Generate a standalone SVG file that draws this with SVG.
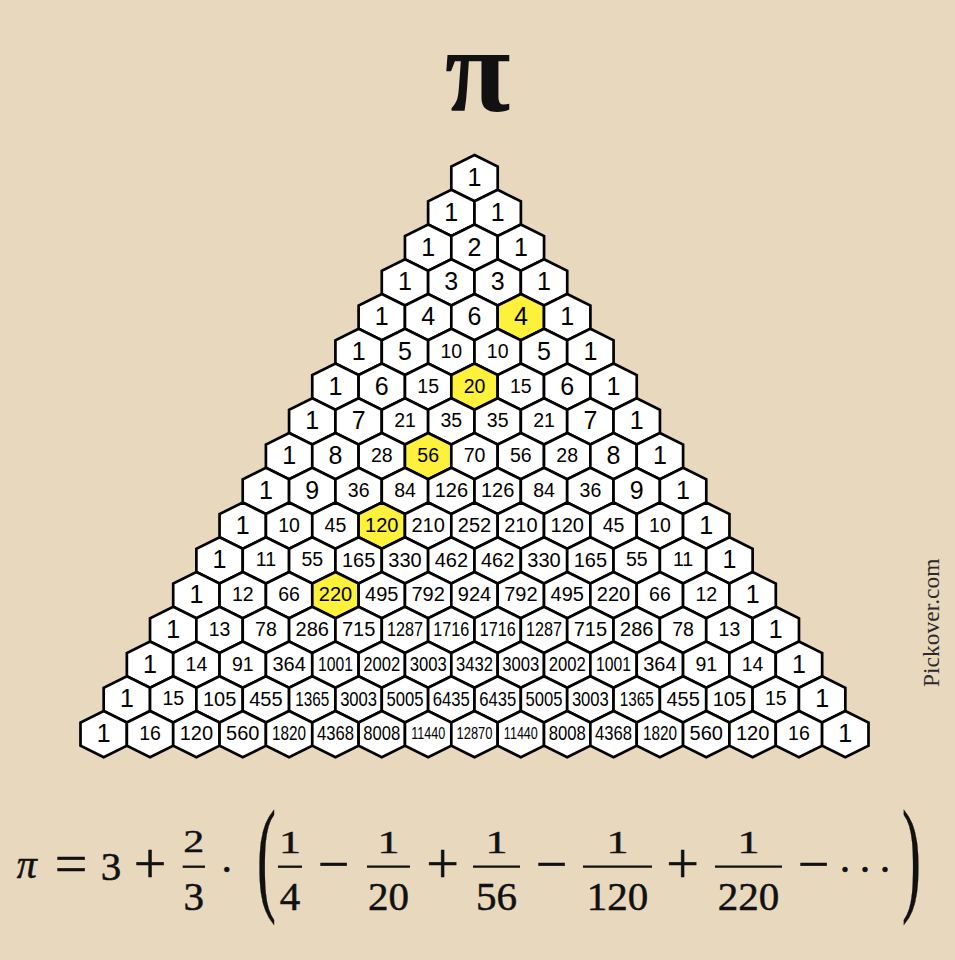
<svg xmlns="http://www.w3.org/2000/svg" xmlns:xlink="http://www.w3.org/1999/xlink" width="955" height="960" viewBox="0 0 955 960">
<style>
.h{fill:#ffffff;stroke:#000;stroke-width:2.7;stroke-linejoin:miter}
.y{fill:#fdf13c}
.n text{font-family:'Liberation Sans',Arial,sans-serif;text-anchor:middle;fill:#000}
.d1{font-size:25px}
.d2{font-size:19.5px}
.d3{font-size:20px}
.d4{font-size:20.5px}
.d5{font-size:16px}
.f text{font-family:'Liberation Serif','Times New Roman',serif;fill:#111;stroke:#111;stroke-width:0.5;text-anchor:middle}
.bar{stroke:#111;stroke-width:2.3}
</style>
<defs>
<polygon id="hx" points="0,-23.15 23.2,-11.55 23.2,11.55 0,23.15 -23.2,11.55 -23.2,-11.55"/>
</defs>
<rect width="955" height="960" fill="#e8d8be"/>
<text x="477.5" y="111" font-family="'Liberation Serif','Times New Roman',serif" font-size="120" font-weight="bold" text-anchor="middle" fill="#111">π</text>
<g class="n" id="triangle">
<g transform="translate(474.5,178.15)">
<g id="r0k0"><use href="#hx" class="h"/><text class="d1" y="8">1</text></g>
</g>
<g transform="translate(451.325,212.9)">
<g id="r1k0"><use href="#hx" class="h"/><text class="d1" y="8">1</text></g>
<g id="r1k1" transform="translate(46.35)"><use href="#hx" class="h"/><text class="d1" y="8">1</text></g>
</g>
<g transform="translate(428.15,247.65)">
<g id="r2k0"><use href="#hx" class="h"/><text class="d1" y="8">1</text></g>
<g id="r2k1" transform="translate(46.35)"><use href="#hx" class="h"/><text class="d1" y="8">2</text></g>
<g id="r2k2" transform="translate(92.7)"><use href="#hx" class="h"/><text class="d1" y="8">1</text></g>
</g>
<g transform="translate(404.975,282.4)">
<g id="r3k0"><use href="#hx" class="h"/><text class="d1" y="8">1</text></g>
<g id="r3k1" transform="translate(46.35)"><use href="#hx" class="h"/><text class="d1" y="8">3</text></g>
<g id="r3k2" transform="translate(92.7)"><use href="#hx" class="h"/><text class="d1" y="8">3</text></g>
<g id="r3k3" transform="translate(139.05)"><use href="#hx" class="h"/><text class="d1" y="8">1</text></g>
</g>
<g transform="translate(381.8,317.15)">
<g id="r4k0"><use href="#hx" class="h"/><text class="d1" y="8">1</text></g>
<g id="r4k1" transform="translate(46.35)"><use href="#hx" class="h"/><text class="d1" y="8">4</text></g>
<g id="r4k2" transform="translate(92.7)"><use href="#hx" class="h"/><text class="d1" y="8">6</text></g>
<g id="r4k3" transform="translate(139.05)"><use href="#hx" class="h y"/><text class="d1" y="8">4</text></g>
<g id="r4k4" transform="translate(185.4)"><use href="#hx" class="h"/><text class="d1" y="8">1</text></g>
</g>
<g transform="translate(358.625,351.9)">
<g id="r5k0"><use href="#hx" class="h"/><text class="d1" y="8">1</text></g>
<g id="r5k1" transform="translate(46.35)"><use href="#hx" class="h"/><text class="d1" y="8">5</text></g>
<g id="r5k2" transform="translate(92.7)"><use href="#hx" class="h"/><text class="d2" y="6">10</text></g>
<g id="r5k3" transform="translate(139.05)"><use href="#hx" class="h"/><text class="d2" y="6">10</text></g>
<g id="r5k4" transform="translate(185.4)"><use href="#hx" class="h"/><text class="d1" y="8">5</text></g>
<g id="r5k5" transform="translate(231.75)"><use href="#hx" class="h"/><text class="d1" y="8">1</text></g>
</g>
<g transform="translate(335.45,386.65)">
<g id="r6k0"><use href="#hx" class="h"/><text class="d1" y="8">1</text></g>
<g id="r6k1" transform="translate(46.35)"><use href="#hx" class="h"/><text class="d1" y="8">6</text></g>
<g id="r6k2" transform="translate(92.7)"><use href="#hx" class="h"/><text class="d2" y="6">15</text></g>
<g id="r6k3" transform="translate(139.05)"><use href="#hx" class="h y"/><text class="d2" y="6">20</text></g>
<g id="r6k4" transform="translate(185.4)"><use href="#hx" class="h"/><text class="d2" y="6">15</text></g>
<g id="r6k5" transform="translate(231.75)"><use href="#hx" class="h"/><text class="d1" y="8">6</text></g>
<g id="r6k6" transform="translate(278.1)"><use href="#hx" class="h"/><text class="d1" y="8">1</text></g>
</g>
<g transform="translate(312.275,421.4)">
<g id="r7k0"><use href="#hx" class="h"/><text class="d1" y="8">1</text></g>
<g id="r7k1" transform="translate(46.35)"><use href="#hx" class="h"/><text class="d1" y="8">7</text></g>
<g id="r7k2" transform="translate(92.7)"><use href="#hx" class="h"/><text class="d2" y="6">21</text></g>
<g id="r7k3" transform="translate(139.05)"><use href="#hx" class="h"/><text class="d2" y="6">35</text></g>
<g id="r7k4" transform="translate(185.4)"><use href="#hx" class="h"/><text class="d2" y="6">35</text></g>
<g id="r7k5" transform="translate(231.75)"><use href="#hx" class="h"/><text class="d2" y="6">21</text></g>
<g id="r7k6" transform="translate(278.1)"><use href="#hx" class="h"/><text class="d1" y="8">7</text></g>
<g id="r7k7" transform="translate(324.45)"><use href="#hx" class="h"/><text class="d1" y="8">1</text></g>
</g>
<g transform="translate(289.1,456.15)">
<g id="r8k0"><use href="#hx" class="h"/><text class="d1" y="8">1</text></g>
<g id="r8k1" transform="translate(46.35)"><use href="#hx" class="h"/><text class="d1" y="8">8</text></g>
<g id="r8k2" transform="translate(92.7)"><use href="#hx" class="h"/><text class="d2" y="6">28</text></g>
<g id="r8k3" transform="translate(139.05)"><use href="#hx" class="h y"/><text class="d2" y="6">56</text></g>
<g id="r8k4" transform="translate(185.4)"><use href="#hx" class="h"/><text class="d2" y="6">70</text></g>
<g id="r8k5" transform="translate(231.75)"><use href="#hx" class="h"/><text class="d2" y="6">56</text></g>
<g id="r8k6" transform="translate(278.1)"><use href="#hx" class="h"/><text class="d2" y="6">28</text></g>
<g id="r8k7" transform="translate(324.45)"><use href="#hx" class="h"/><text class="d1" y="8">8</text></g>
<g id="r8k8" transform="translate(370.8)"><use href="#hx" class="h"/><text class="d1" y="8">1</text></g>
</g>
<g transform="translate(265.925,490.9)">
<g id="r9k0"><use href="#hx" class="h"/><text class="d1" y="8">1</text></g>
<g id="r9k1" transform="translate(46.35)"><use href="#hx" class="h"/><text class="d1" y="8">9</text></g>
<g id="r9k2" transform="translate(92.7)"><use href="#hx" class="h"/><text class="d2" y="6">36</text></g>
<g id="r9k3" transform="translate(139.05)"><use href="#hx" class="h"/><text class="d2" y="6">84</text></g>
<g id="r9k4" transform="translate(185.4)"><use href="#hx" class="h"/><text class="d3" y="6.2">126</text></g>
<g id="r9k5" transform="translate(231.75)"><use href="#hx" class="h"/><text class="d3" y="6.2">126</text></g>
<g id="r9k6" transform="translate(278.1)"><use href="#hx" class="h"/><text class="d2" y="6">84</text></g>
<g id="r9k7" transform="translate(324.45)"><use href="#hx" class="h"/><text class="d2" y="6">36</text></g>
<g id="r9k8" transform="translate(370.8)"><use href="#hx" class="h"/><text class="d1" y="8">9</text></g>
<g id="r9k9" transform="translate(417.15)"><use href="#hx" class="h"/><text class="d1" y="8">1</text></g>
</g>
<g transform="translate(242.75,525.65)">
<g id="r10k0"><use href="#hx" class="h"/><text class="d1" y="8">1</text></g>
<g id="r10k1" transform="translate(46.35)"><use href="#hx" class="h"/><text class="d2" y="6">10</text></g>
<g id="r10k2" transform="translate(92.7)"><use href="#hx" class="h"/><text class="d2" y="6">45</text></g>
<g id="r10k3" transform="translate(139.05)"><use href="#hx" class="h y"/><text class="d3" y="6.2">120</text></g>
<g id="r10k4" transform="translate(185.4)"><use href="#hx" class="h"/><text class="d3" y="6.2">210</text></g>
<g id="r10k5" transform="translate(231.75)"><use href="#hx" class="h"/><text class="d3" y="6.2">252</text></g>
<g id="r10k6" transform="translate(278.1)"><use href="#hx" class="h"/><text class="d3" y="6.2">210</text></g>
<g id="r10k7" transform="translate(324.45)"><use href="#hx" class="h"/><text class="d3" y="6.2">120</text></g>
<g id="r10k8" transform="translate(370.8)"><use href="#hx" class="h"/><text class="d2" y="6">45</text></g>
<g id="r10k9" transform="translate(417.15)"><use href="#hx" class="h"/><text class="d2" y="6">10</text></g>
<g id="r10k10" transform="translate(463.5)"><use href="#hx" class="h"/><text class="d1" y="8">1</text></g>
</g>
<g transform="translate(219.575,560.4)">
<g id="r11k0"><use href="#hx" class="h"/><text class="d1" y="8">1</text></g>
<g id="r11k1" transform="translate(46.35)"><use href="#hx" class="h"/><text class="d2" y="6">11</text></g>
<g id="r11k2" transform="translate(92.7)"><use href="#hx" class="h"/><text class="d2" y="6">55</text></g>
<g id="r11k3" transform="translate(139.05)"><use href="#hx" class="h"/><text class="d3" y="6.2">165</text></g>
<g id="r11k4" transform="translate(185.4)"><use href="#hx" class="h"/><text class="d3" y="6.2">330</text></g>
<g id="r11k5" transform="translate(231.75)"><use href="#hx" class="h"/><text class="d3" y="6.2">462</text></g>
<g id="r11k6" transform="translate(278.1)"><use href="#hx" class="h"/><text class="d3" y="6.2">462</text></g>
<g id="r11k7" transform="translate(324.45)"><use href="#hx" class="h"/><text class="d3" y="6.2">330</text></g>
<g id="r11k8" transform="translate(370.8)"><use href="#hx" class="h"/><text class="d3" y="6.2">165</text></g>
<g id="r11k9" transform="translate(417.15)"><use href="#hx" class="h"/><text class="d2" y="6">55</text></g>
<g id="r11k10" transform="translate(463.5)"><use href="#hx" class="h"/><text class="d2" y="6">11</text></g>
<g id="r11k11" transform="translate(509.85)"><use href="#hx" class="h"/><text class="d1" y="8">1</text></g>
</g>
<g transform="translate(196.4,595.15)">
<g id="r12k0"><use href="#hx" class="h"/><text class="d1" y="8">1</text></g>
<g id="r12k1" transform="translate(46.35)"><use href="#hx" class="h"/><text class="d2" y="6">12</text></g>
<g id="r12k2" transform="translate(92.7)"><use href="#hx" class="h"/><text class="d2" y="6">66</text></g>
<g id="r12k3" transform="translate(139.05)"><use href="#hx" class="h y"/><text class="d3" y="6.2">220</text></g>
<g id="r12k4" transform="translate(185.4)"><use href="#hx" class="h"/><text class="d3" y="6.2">495</text></g>
<g id="r12k5" transform="translate(231.75)"><use href="#hx" class="h"/><text class="d3" y="6.2">792</text></g>
<g id="r12k6" transform="translate(278.1)"><use href="#hx" class="h"/><text class="d3" y="6.2">924</text></g>
<g id="r12k7" transform="translate(324.45)"><use href="#hx" class="h"/><text class="d3" y="6.2">792</text></g>
<g id="r12k8" transform="translate(370.8)"><use href="#hx" class="h"/><text class="d3" y="6.2">495</text></g>
<g id="r12k9" transform="translate(417.15)"><use href="#hx" class="h"/><text class="d3" y="6.2">220</text></g>
<g id="r12k10" transform="translate(463.5)"><use href="#hx" class="h"/><text class="d2" y="6">66</text></g>
<g id="r12k11" transform="translate(509.85)"><use href="#hx" class="h"/><text class="d2" y="6">12</text></g>
<g id="r12k12" transform="translate(556.2)"><use href="#hx" class="h"/><text class="d1" y="8">1</text></g>
</g>
<g transform="translate(173.225,629.9)">
<g id="r13k0"><use href="#hx" class="h"/><text class="d1" y="8">1</text></g>
<g id="r13k1" transform="translate(46.35)"><use href="#hx" class="h"/><text class="d2" y="6">13</text></g>
<g id="r13k2" transform="translate(92.7)"><use href="#hx" class="h"/><text class="d2" y="6">78</text></g>
<g id="r13k3" transform="translate(139.05)"><use href="#hx" class="h"/><text class="d3" y="6.2">286</text></g>
<g id="r13k4" transform="translate(185.4)"><use href="#hx" class="h"/><text class="d3" y="6.2">715</text></g>
<g id="r13k5" transform="translate(231.75)"><use href="#hx" class="h"/><text class="d4" y="6.3" textLength="36" lengthAdjust="spacingAndGlyphs">1287</text></g>
<g id="r13k6" transform="translate(278.1)"><use href="#hx" class="h"/><text class="d4" y="6.3" textLength="36" lengthAdjust="spacingAndGlyphs">1716</text></g>
<g id="r13k7" transform="translate(324.45)"><use href="#hx" class="h"/><text class="d4" y="6.3" textLength="36" lengthAdjust="spacingAndGlyphs">1716</text></g>
<g id="r13k8" transform="translate(370.8)"><use href="#hx" class="h"/><text class="d4" y="6.3" textLength="36" lengthAdjust="spacingAndGlyphs">1287</text></g>
<g id="r13k9" transform="translate(417.15)"><use href="#hx" class="h"/><text class="d3" y="6.2">715</text></g>
<g id="r13k10" transform="translate(463.5)"><use href="#hx" class="h"/><text class="d3" y="6.2">286</text></g>
<g id="r13k11" transform="translate(509.85)"><use href="#hx" class="h"/><text class="d2" y="6">78</text></g>
<g id="r13k12" transform="translate(556.2)"><use href="#hx" class="h"/><text class="d2" y="6">13</text></g>
<g id="r13k13" transform="translate(602.55)"><use href="#hx" class="h"/><text class="d1" y="8">1</text></g>
</g>
<g transform="translate(150.05,664.65)">
<g id="r14k0"><use href="#hx" class="h"/><text class="d1" y="8">1</text></g>
<g id="r14k1" transform="translate(46.35)"><use href="#hx" class="h"/><text class="d2" y="6">14</text></g>
<g id="r14k2" transform="translate(92.7)"><use href="#hx" class="h"/><text class="d2" y="6">91</text></g>
<g id="r14k3" transform="translate(139.05)"><use href="#hx" class="h"/><text class="d3" y="6.2">364</text></g>
<g id="r14k4" transform="translate(185.4)"><use href="#hx" class="h"/><text class="d4" y="6.3" textLength="35" lengthAdjust="spacingAndGlyphs">1001</text></g>
<g id="r14k5" transform="translate(231.75)"><use href="#hx" class="h"/><text class="d4" y="6.3" textLength="37" lengthAdjust="spacingAndGlyphs">2002</text></g>
<g id="r14k6" transform="translate(278.1)"><use href="#hx" class="h"/><text class="d4" y="6.3" textLength="37" lengthAdjust="spacingAndGlyphs">3003</text></g>
<g id="r14k7" transform="translate(324.45)"><use href="#hx" class="h"/><text class="d4" y="6.3" textLength="37" lengthAdjust="spacingAndGlyphs">3432</text></g>
<g id="r14k8" transform="translate(370.8)"><use href="#hx" class="h"/><text class="d4" y="6.3" textLength="37" lengthAdjust="spacingAndGlyphs">3003</text></g>
<g id="r14k9" transform="translate(417.15)"><use href="#hx" class="h"/><text class="d4" y="6.3" textLength="37" lengthAdjust="spacingAndGlyphs">2002</text></g>
<g id="r14k10" transform="translate(463.5)"><use href="#hx" class="h"/><text class="d4" y="6.3" textLength="35" lengthAdjust="spacingAndGlyphs">1001</text></g>
<g id="r14k11" transform="translate(509.85)"><use href="#hx" class="h"/><text class="d3" y="6.2">364</text></g>
<g id="r14k12" transform="translate(556.2)"><use href="#hx" class="h"/><text class="d2" y="6">91</text></g>
<g id="r14k13" transform="translate(602.55)"><use href="#hx" class="h"/><text class="d2" y="6">14</text></g>
<g id="r14k14" transform="translate(648.9)"><use href="#hx" class="h"/><text class="d1" y="8">1</text></g>
</g>
<g transform="translate(126.875,699.4)">
<g id="r15k0"><use href="#hx" class="h"/><text class="d1" y="8">1</text></g>
<g id="r15k1" transform="translate(46.35)"><use href="#hx" class="h"/><text class="d2" y="6">15</text></g>
<g id="r15k2" transform="translate(92.7)"><use href="#hx" class="h"/><text class="d3" y="6.2">105</text></g>
<g id="r15k3" transform="translate(139.05)"><use href="#hx" class="h"/><text class="d3" y="6.2">455</text></g>
<g id="r15k4" transform="translate(185.4)"><use href="#hx" class="h"/><text class="d4" y="6.3" textLength="34" lengthAdjust="spacingAndGlyphs">1365</text></g>
<g id="r15k5" transform="translate(231.75)"><use href="#hx" class="h"/><text class="d4" y="6.3" textLength="37" lengthAdjust="spacingAndGlyphs">3003</text></g>
<g id="r15k6" transform="translate(278.1)"><use href="#hx" class="h"/><text class="d4" y="6.3" textLength="37" lengthAdjust="spacingAndGlyphs">5005</text></g>
<g id="r15k7" transform="translate(324.45)"><use href="#hx" class="h"/><text class="d4" y="6.3" textLength="37" lengthAdjust="spacingAndGlyphs">6435</text></g>
<g id="r15k8" transform="translate(370.8)"><use href="#hx" class="h"/><text class="d4" y="6.3" textLength="37" lengthAdjust="spacingAndGlyphs">6435</text></g>
<g id="r15k9" transform="translate(417.15)"><use href="#hx" class="h"/><text class="d4" y="6.3" textLength="37" lengthAdjust="spacingAndGlyphs">5005</text></g>
<g id="r15k10" transform="translate(463.5)"><use href="#hx" class="h"/><text class="d4" y="6.3" textLength="37" lengthAdjust="spacingAndGlyphs">3003</text></g>
<g id="r15k11" transform="translate(509.85)"><use href="#hx" class="h"/><text class="d4" y="6.3" textLength="34" lengthAdjust="spacingAndGlyphs">1365</text></g>
<g id="r15k12" transform="translate(556.2)"><use href="#hx" class="h"/><text class="d3" y="6.2">455</text></g>
<g id="r15k13" transform="translate(602.55)"><use href="#hx" class="h"/><text class="d3" y="6.2">105</text></g>
<g id="r15k14" transform="translate(648.9)"><use href="#hx" class="h"/><text class="d2" y="6">15</text></g>
<g id="r15k15" transform="translate(695.25)"><use href="#hx" class="h"/><text class="d1" y="8">1</text></g>
</g>
<g transform="translate(103.7,734.15)">
<g id="r16k0"><use href="#hx" class="h"/><text class="d1" y="8">1</text></g>
<g id="r16k1" transform="translate(46.35)"><use href="#hx" class="h"/><text class="d2" y="6">16</text></g>
<g id="r16k2" transform="translate(92.7)"><use href="#hx" class="h"/><text class="d3" y="6.2">120</text></g>
<g id="r16k3" transform="translate(139.05)"><use href="#hx" class="h"/><text class="d3" y="6.2">560</text></g>
<g id="r16k4" transform="translate(185.4)"><use href="#hx" class="h"/><text class="d4" y="6.3" textLength="34" lengthAdjust="spacingAndGlyphs">1820</text></g>
<g id="r16k5" transform="translate(231.75)"><use href="#hx" class="h"/><text class="d4" y="6.3" textLength="37" lengthAdjust="spacingAndGlyphs">4368</text></g>
<g id="r16k6" transform="translate(278.1)"><use href="#hx" class="h"/><text class="d4" y="6.3" textLength="37" lengthAdjust="spacingAndGlyphs">8008</text></g>
<g id="r16k7" transform="translate(324.45)"><use href="#hx" class="h"/><text class="d5" y="4.8" textLength="34" lengthAdjust="spacingAndGlyphs">11440</text></g>
<g id="r16k8" transform="translate(370.8)"><use href="#hx" class="h"/><text class="d5" y="4.8" textLength="36" lengthAdjust="spacingAndGlyphs">12870</text></g>
<g id="r16k9" transform="translate(417.15)"><use href="#hx" class="h"/><text class="d5" y="4.8" textLength="34" lengthAdjust="spacingAndGlyphs">11440</text></g>
<g id="r16k10" transform="translate(463.5)"><use href="#hx" class="h"/><text class="d4" y="6.3" textLength="37" lengthAdjust="spacingAndGlyphs">8008</text></g>
<g id="r16k11" transform="translate(509.85)"><use href="#hx" class="h"/><text class="d4" y="6.3" textLength="37" lengthAdjust="spacingAndGlyphs">4368</text></g>
<g id="r16k12" transform="translate(556.2)"><use href="#hx" class="h"/><text class="d4" y="6.3" textLength="34" lengthAdjust="spacingAndGlyphs">1820</text></g>
<g id="r16k13" transform="translate(602.55)"><use href="#hx" class="h"/><text class="d3" y="6.2">560</text></g>
<g id="r16k14" transform="translate(648.9)"><use href="#hx" class="h"/><text class="d3" y="6.2">120</text></g>
<g id="r16k15" transform="translate(695.25)"><use href="#hx" class="h"/><text class="d2" y="6">16</text></g>
<g id="r16k16" transform="translate(741.6)"><use href="#hx" class="h"/><text class="d1" y="8">1</text></g>
</g>
</g>
<g class="f" id="formula">
<text x="26.7" y="878" font-size="40" font-style="italic">π</text>
<text x="71" y="883" font-size="58">=</text>
<text x="111" y="880" font-size="41">3</text>
<text x="150" y="883" font-size="58">+</text>
<text transform="translate(193.8,852) scale(1.05,0.8)" font-size="40">2</text>
<line class="bar" x1="182.7" y1="866.7" x2="205" y2="866.7"/>
<text x="193.8" y="910" font-size="41">3</text>
<text x="226.7" y="884" font-size="42">·</text>
<text transform="translate(266.5,898) scale(0.45,1)" font-size="126">(</text>
<text transform="translate(290,853) scale(1.1,0.8)" font-size="40">1</text>
<line class="bar" x1="278" y1="866.7" x2="302" y2="866.7"/>
<text x="290" y="910" font-size="41">4</text>
<text x="333.5" y="883" font-size="56">−</text>
<text transform="translate(388.5,853) scale(1.1,0.8)" font-size="40">1</text>
<line class="bar" x1="367" y1="866.7" x2="410" y2="866.7"/>
<text x="388.5" y="910" font-size="41">20</text>
<text x="442.5" y="883" font-size="58">+</text>
<text transform="translate(496.5,853) scale(1.1,0.8)" font-size="40">1</text>
<line class="bar" x1="473" y1="866.7" x2="520" y2="866.7"/>
<text x="496.5" y="910" font-size="41">56</text>
<text x="551.5" y="883" font-size="56">−</text>
<text transform="translate(617.5,853) scale(1.1,0.8)" font-size="40">1</text>
<line class="bar" x1="583" y1="866.7" x2="652" y2="866.7"/>
<text x="617.5" y="910" font-size="41">120</text>
<text x="682.5" y="883" font-size="58">+</text>
<text transform="translate(748.5,853) scale(1.1,0.8)" font-size="40">1</text>
<line class="bar" x1="715" y1="866.7" x2="782" y2="866.7"/>
<text x="748.5" y="910" font-size="41">220</text>
<text x="813.5" y="883" font-size="56">−</text>
<text x="845 865 885" y="884" font-size="42">···</text>
<text transform="translate(911.5,898) scale(0.45,1)" font-size="126">)</text>
</g>
<text transform="translate(939,687) rotate(-90)" font-family="'Liberation Serif','Times New Roman',serif" font-size="23.5" fill="#2a2a2a">Pickover.com</text>
</svg>
